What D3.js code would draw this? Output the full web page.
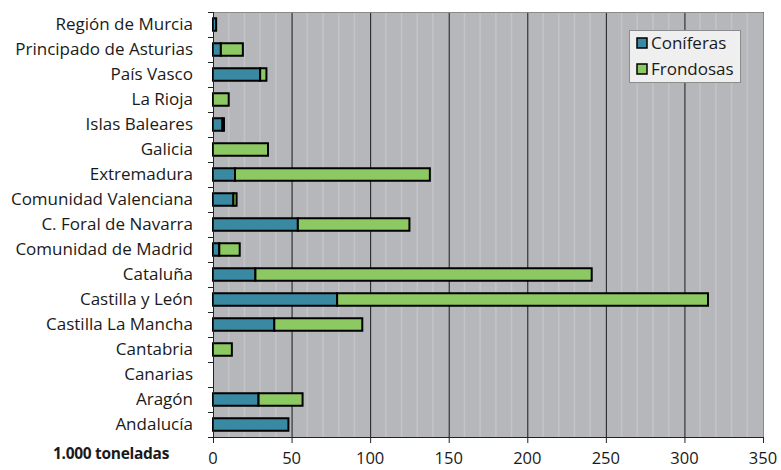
<!DOCTYPE html>
<html><head><meta charset="utf-8">
<script src="https://cdn.jsdelivr.net/npm/d3@7/dist/d3.min.js"></script>
<style>body{margin:0;background:#fff;}svg{display:block;font-family:"Open Sans",sans-serif;}</style>
</head><body><svg id="c" width="781" height="470"></svg>
<script>
const categories = ["Región de Murcia","Principado de Asturias","País Vasco","La Rioja","Islas Baleares","Galicia","Extremadura","Comunidad Valenciana","C. Foral de Navarra","Comunidad de Madrid","Cataluña","Castilla y León","Castilla La Mancha","Cantabria","Canarias","Aragón","Andalucía"];
const coniferas = [2,5,30,0,6,0,14,13,54,4,27,79,39,0,0,29,48];
const frondosas = [0,14,4,10,1,35,124,2,71,13,214,236,56,12,0,28,0];
const seriesNames = ["Coníferas","Frondosas"];
const xTicks = [0,50,100,150,200,250,300,350];
const axisTitle = "1.000 toneladas";

const svg = d3.select("#c");
const m = {l:213, r:763, t:12, b:437};
const x = d3.scaleLinear().domain([0,350]).range([m.l,m.r]);
const y = d3.scaleBand().domain(categories).range([m.t,m.b]).paddingInner(0.5).paddingOuter(0.25);
const yb = d3.scaleBand().domain(categories).range([m.t,m.b]);
const colors = ["#3a89a3","#8cc963"];
const FS = 17;

svg.append("rect").attr("x",m.l).attr("y",m.t).attr("width",m.r-m.l).attr("height",m.b-m.t).attr("fill","#b6b7bb");
svg.append("g").selectAll("line").data(d3.range(10,350,10).filter(v=>v%50!==0)).join("line")
  .attr("x1",d=>x(d)).attr("x2",d=>x(d)).attr("y1",m.t).attr("y2",m.b)
  .attr("stroke","#c3c4c8").attr("stroke-width",1.5);
svg.append("g").selectAll("line").data(xTicks.slice(1)).join("line")
  .attr("x1",d=>x(d)+0.5).attr("x2",d=>x(d)+0.5).attr("y1",m.t).attr("y2",m.b)
  .attr("stroke","#1a1a1a").attr("stroke-width",1);
svg.append("path").attr("d",`M${m.l},${m.t+0.5}H${m.r+0.5}V${m.b}`).attr("fill","none").attr("stroke","#8a8a8a").attr("stroke-width",1);

const g = svg.append("g");
categories.forEach((c,i)=>{
  const c0 = coniferas[i], f0 = frondosas[i];
  if(c0>0) g.append("rect").attr("x",x(0)).attr("y",y(c)).attr("width",x(c0)-x(0)).attr("height",y.bandwidth())
    .attr("fill",colors[0]).attr("stroke","#000").attr("stroke-width",2);
  if(f0>0) g.append("rect").attr("x",x(c0)).attr("y",y(c)).attr("width",x(c0+f0)-x(c0)).attr("height",y.bandwidth())
    .attr("fill",colors[1]).attr("stroke","#000").attr("stroke-width",2);
});

const ya = svg.append("g");
ya.append("line").attr("x1",m.l+0.5).attr("x2",m.l+0.5).attr("y1",m.t).attr("y2",m.b).attr("stroke","#222");
ya.selectAll("line.t").data(d3.range(categories.length+1)).join("line").attr("class","t")
  .attr("x1",m.l-5).attr("x2",m.l).attr("y1",d=>m.t+d*yb.step()+0.5).attr("y2",d=>m.t+d*yb.step()+0.5).attr("stroke","#222");
ya.selectAll("text").data(categories).join("text")
  .attr("x",193).attr("y",d=>yb(d)+yb.bandwidth()/2).attr("dy","0.35em").attr("text-anchor","end")
  .attr("font-size",FS).attr("fill","#1a1a1a").text(d=>d);

const xa = svg.append("g");
xa.append("line").attr("x1",m.l).attr("x2",m.r+0.5).attr("y1",m.b+0.5).attr("y2",m.b+0.5).attr("stroke","#222");
xa.selectAll("line.t").data(xTicks).join("line").attr("class","t")
  .attr("x1",d=>x(d)+0.5).attr("x2",d=>x(d)+0.5).attr("y1",m.b).attr("y2",m.b+6).attr("stroke","#222");
xa.selectAll("text").data(xTicks).join("text")
  .attr("x",d=>x(d)).attr("y",464).attr("text-anchor","middle").attr("font-size",16.5).attr("fill","#1a1a1a").text(d=>d);
svg.append("text").attr("x",53).attr("y",459).attr("font-size",15.5).attr("font-weight","bold").attr("letter-spacing",-0.3).attr("fill","#1a1a1a").text(axisTitle);

const lg = svg.append("g");
lg.append("rect").attr("x",629.5).attr("y",30.5).attr("width",111).attr("height",52).attr("fill","#efefef").attr("stroke","#8c8c8c");
seriesNames.forEach((s,i)=>{
  lg.append("rect").attr("x",637).attr("y",38+i*26).attr("width",10).attr("height",10).attr("fill",colors[i]).attr("stroke","#000").attr("stroke-width",1.5);
  lg.append("text").attr("x",651).attr("y",43+i*26).attr("dy","0.35em").attr("font-size",FS).attr("fill","#1a1a1a").text(s);
});
</script></body></html>
